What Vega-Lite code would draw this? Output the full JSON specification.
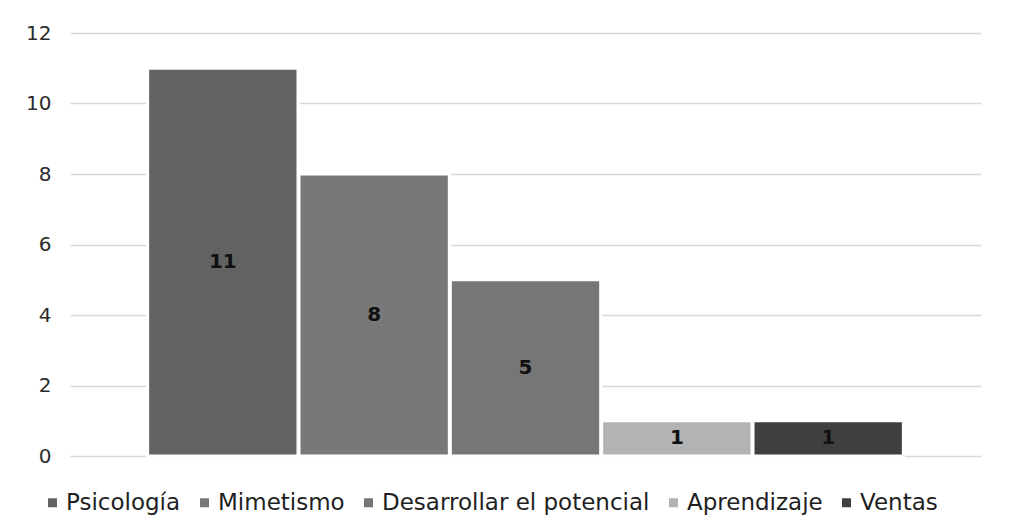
{
  "$schema": "https://vega.github.io/schema/vega-lite/v6.json",
  "width": 911,
  "height": 423,
  "autosize": {"type": "none"},
  "padding": {"left": 70, "top": 33, "right": 29, "bottom": 76},
  "background": "white",
  "config": {"view": {"stroke": null}, "font": "DejaVu Sans"},
  "data": {
    "values": [
      {"tema": "Psicología", "n": 11},
      {"tema": "Mimetismo", "n": 8},
      {"tema": "Desarrollar el potencial", "n": 5},
      {"tema": "Aprendizaje", "n": 1},
      {"tema": "Ventas", "n": 1}
    ]
  },
  "encoding": {
    "x": {
      "field": "tema",
      "type": "nominal",
      "sort": null,
      "axis": null,
      "scale": {"paddingInner": 0.0066, "paddingOuter": 0.513}
    }
  },
  "layer": [
    {
      "mark": {"type": "bar", "stroke": "white", "strokeWidth": 3},
      "encoding": {
        "y": {
          "field": "n",
          "type": "quantitative",
          "scale": {"domain": [0, 12]},
          "axis": {
            "values": [0, 2, 4, 6, 8, 10, 12],
            "title": null,
            "grid": true,
            "gridColor": "#d9d9d9",
            "gridWidth": 1.5,
            "domain": false,
            "ticks": false,
            "tickSize": 0,
            "labelPadding": 19,
            "labelFont": "DejaVu Sans",
            "labelFontSize": 20,
            "labelColor": "#2b2b2b"
          }
        },
        "color": {
          "field": "tema",
          "type": "nominal",
          "sort": null,
          "scale": {
            "domain": ["Psicología", "Mimetismo", "Desarrollar el potencial", "Aprendizaje", "Ventas"],
            "range": ["#636363", "#787878", "#767676", "#b3b3b3", "#3f3f3f"]
          },
          "legend": {
            "orient": "none",
            "legendX": -29,
            "legendY": 458,
            "direction": "horizontal",
            "columns": 5,
            "title": null,
            "padding": 0,
            "symbolType": "square",
            "symbolSize": 81,
            "symbolStrokeWidth": 0,
            "labelFont": "DejaVu Sans",
            "labelFontSize": 23,
            "labelColor": "#1f1f1f",
            "labelOffset": 2,
            "columnPadding": 12,
            "labelLimit": 0
          }
        }
      }
    },
    {
      "mark": {"type": "text", "font": "DejaVu Sans", "fontWeight": "bold", "fontSize": 20, "color": "#111111"},
      "encoding": {
        "y": {"field": "n", "type": "quantitative", "scale": {"domain": [0, 24]}, "axis": null},
        "text": {"field": "n", "type": "quantitative"}
      }
    }
  ],
  "resolve": {"scale": {"y": "independent"}}
}
